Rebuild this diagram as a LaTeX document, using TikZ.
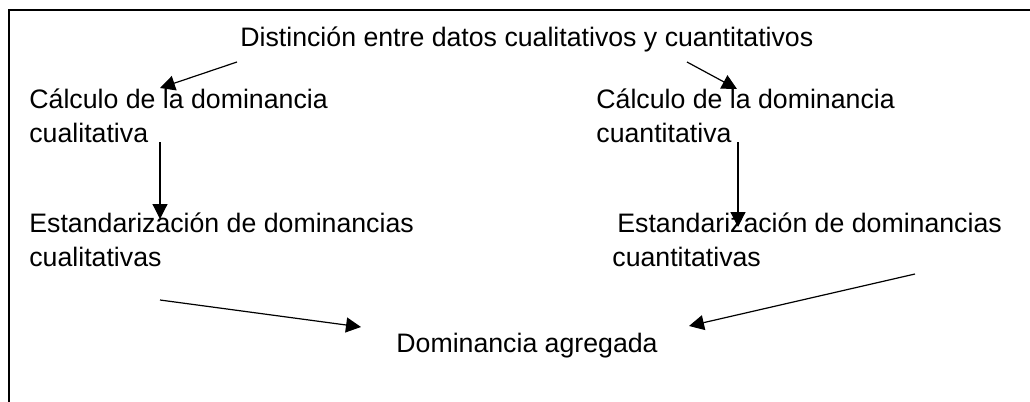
\documentclass[tikz,border=0pt]{standalone}
\usepackage{fontspec}
\setmainfont{Liberation Sans}
\usetikzlibrary{arrows.meta}

\begin{document}
\begin{tikzpicture}[
    x=0.5pt, y=-0.5pt,
    txt/.style={anchor=base west, align=left, inner sep=0pt, font=\fontsize{13.35}{17}\selectfont},
    line/.style={draw, line width=0.6pt, -{Triangle[length=7.5pt, width=7.5pt]}},
    frame/.style={draw, line width=0.75pt}
    ]
    \useasboundingbox (0,0) rectangle (1030,402);
    \draw [frame] (9,402) -- (9,10) -- (1030,10);

    % base anchor sits on the last line
    \node [txt] (distincion) at (240,46) {Distinción entre datos cualitativos y cuantitativos};
    \node [txt] (calcqual) at (29,142) {Cálculo de la dominancia\\cualitativa};
    \node [txt] (calcquant) at (596,142) {Cálculo de la dominancia\\cuantitativa};
    \node [txt] (estqual) at (29,266) {Estandarización de dominancias\\cualitativas};
    \node [txt] (estquant) at (612,266) {\hspace*{2.5pt}Estandarización de dominancias\\cuantitativas};
    \node [txt] (agregada) at (396,352) {Dominancia agregada};

    % arrow ends
    \coordinate (d1) at (237,62);  \coordinate (c1) at (160,88);
    \coordinate (d2) at (687,62);  \coordinate (c2) at (737,89);
    \coordinate (c3) at (160,142); \coordinate (e3) at (160,219);
    \coordinate (c4) at (738,142); \coordinate (e4) at (738,227);
    \coordinate (e5) at (160,300); \coordinate (a5) at (361,327);
    \coordinate (e6) at (915,274); \coordinate (a6) at (689,326);

    \path [line] (d1) -- (c1);
    \path [line] (d2) -- (c2);
    \path [line] (c3) -- (e3);
    \path [line] (c4) -- (e4);
    \path [line] (e5) -- (a5);
    \path [line] (e6) -- (a6);
\end{tikzpicture}
\end{document}
